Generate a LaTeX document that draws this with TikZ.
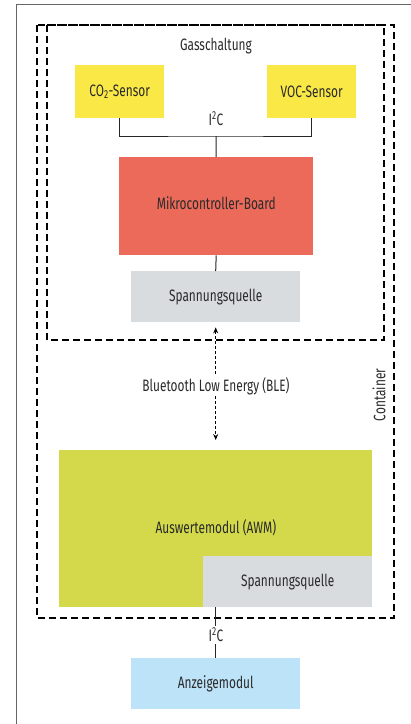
\documentclass[tikz,border=0pt]{standalone}
\usepackage{fontspec}
\setmainfont[FakeStretch=0.72]{Fira Sans}
\usetikzlibrary{arrows.meta,calc}
\definecolor{cyel}{HTML}{FAE847}
\definecolor{cred}{HTML}{EC6A5A}
\definecolor{cgray}{HTML}{D9DCDF}
\definecolor{cgreen}{HTML}{D3D94A}
\definecolor{cblue}{HTML}{BDE3F8}
\definecolor{ctext}{HTML}{2A2A2A}
\begin{document}
\begin{tikzpicture}[x=1pt,y=-1pt,
  every node/.style={font=\fontsize{16.5}{19}\selectfont, text=ctext},
  box/.style={rectangle, inner sep=0pt, anchor=north west},
  frame/.style={draw=black!60, line width=0.9pt},
  dbox/.style={draw=black, line width=2pt, dash pattern=on 7pt off 4pt},
  conn/.style={draw=black!85, line width=1pt},
  lbl/.style={fill=white, inner sep=1.5pt}]
\useasboundingbox (0,0) rectangle (411,724);
% outer frame
\draw[frame] (16.5,724) -- (16.5,4.5) -- (411,4.5);
% dashed boxes
\draw[dbox] (36.5,25) rectangle (394,617.5);
\draw[dbox] (47,25) rectangle (384,340);
\node at (216,46) {Gasschaltung};
\node[rotate=90] at (379,395) {Container};
% nodes
\node[box, fill=cyel, minimum width=89pt, minimum height=53pt] (co2) at (75,65) {};
\node at (co2.center) {CO\textsubscript{2}-Sensor};
\node[box, fill=cyel, minimum width=89pt, minimum height=53pt] (voc) at (267,65) {};
\node at (voc.center) {VOC-Sensor};
\node[box, fill=cred, minimum width=194pt, minimum height=98pt] (mcb) at (119,157) {};
\node at ([yshift=3pt]mcb.center) {Mikrocontroller-Board};
\node[box, fill=cgray, minimum width=169pt, minimum height=51pt] (sq1) at (131,271) {};
\node at (sq1.center) {Spannungsquelle};
\node[box, fill=cgreen, minimum width=313pt, minimum height=157pt] (awm) at (59,450) {};
\node at (216,528) {Auswertemodul (AWM)};
\node[box, fill=cgray, minimum width=169pt, minimum height=51pt] (sq2) at (203,556) {};
\node at (sq2.center) {Spannungsquelle};
\node[box, fill=cblue, minimum width=169pt, minimum height=51pt] (anz) at (131,658) {};
\node at (anz.center) {Anzeigemodul};
% connectors
\coordinate (bus) at (216,136);
\draw[conn] (co2.south) |- (bus) -| (voc.south);
\draw[conn] (bus) -- (mcb.north);
\node at (216,119) {I\textsuperscript{2}C};
\draw[conn] (mcb.south) -- (sq1.north);
\draw[line width=0.9pt, dash pattern=on 3pt off 2pt, {Stealth[length=6pt,width=5pt]}-{Stealth[length=6pt,width=5pt]}]
  ([yshift=-5pt]sq1.south) -- ([yshift=10pt]awm.north);
\node[lbl] at (216,386) {Bluetooth Low Energy (BLE)};
\draw[conn] (awm.south) -- (anz.north);
\node[lbl] at (216,635) {I\textsuperscript{2}C};
\end{tikzpicture}
\end{document}
